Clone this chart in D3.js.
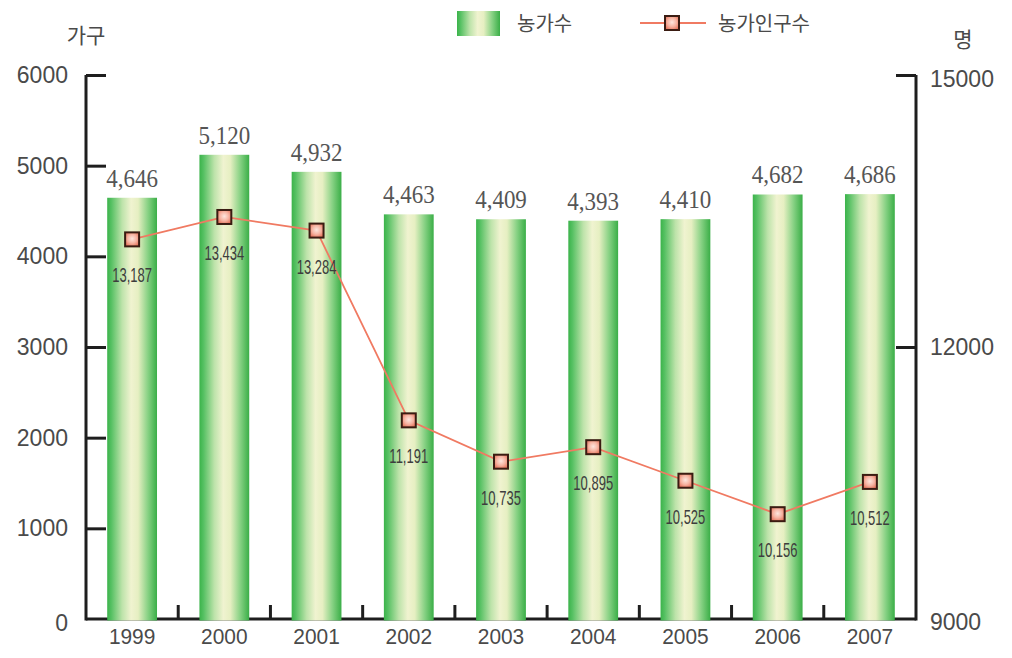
<!DOCTYPE html>
<html>
<head>
<meta charset="utf-8">
<script src="https://cdn.jsdelivr.net/npm/d3@7"></script>
<style>
  html, body { margin: 0; padding: 0; background: #fff; }
  svg { display: block; }
</style>
</head>
<body>
<svg id="chart" width="1012" height="658"></svg>
<script>
const years = ["1999","2000","2001","2002","2003","2004","2005","2006","2007"];
const households = [4646, 5120, 4932, 4463, 4409, 4393, 4410, 4682, 4686];
const population = [13187, 13434, 13284, 11191, 10735, 10895, 10525, 10156, 10512];
const leftTicks = [0, 1000, 2000, 3000, 4000, 5000, 6000];
const rightTicks = [9000, 12000, 15000];
const seriesNames = ["농가수", "농가인구수"];
const leftUnit = "가구";
const rightUnit = "명";

const svg = d3.select("#chart");
const m = { left: 86, right: 916, top: 75, bottom: 619 };

const x = d3.scaleBand().domain(years).range([m.left, m.right]).paddingInner(0.46).paddingOuter(0.23);
const yL = d3.scaleLinear().domain([0, 6000]).range([m.bottom, m.top]);
const yR = d3.scaleLinear().domain([9000, 15000]).range([m.bottom, m.top]);

const defs = svg.append("defs");
const bg = defs.append("linearGradient").attr("id", "barGrad").attr("x1", "0%").attr("x2", "100%").attr("y1", "0%").attr("y2", "0%");
[[0, "#3bb34a"], [0.08, "#55c062"], [0.3, "#bde3aa"], [0.48, "#f0f3d0"], [0.62, "#e6efc2"], [0.82, "#86d183"], [1, "#3aae47"]]
  .forEach(([o, c]) => bg.append("stop").attr("offset", o).attr("stop-color", c));
const mg = defs.append("radialGradient").attr("id", "mkGrad").attr("cx", "50%").attr("cy", "45%").attr("r", "65%");
[[0, "#fde6de"], [0.5, "#f6b3a1"], [1, "#e2674f"]]
  .forEach(([o, c]) => mg.append("stop").attr("offset", o).attr("stop-color", c));

const axisColor = "#1e1e1e";
const textColor = "#4a4a4a";
const sans = "'Liberation Sans', Arial, sans-serif";

// Left axis
const leftAxis = d3.axisLeft(yL).tickValues(leftTicks).tickSize(-20).tickPadding(18).tickFormat(d3.format("d"));
const gL = svg.append("g").attr("transform", `translate(${m.left},0)`).call(leftAxis);
gL.select(".domain").remove();
gL.append("line").attr("x1", 0).attr("x2", 0).attr("y1", m.top).attr("y2", m.bottom + 1.5)
  .attr("stroke", axisColor).attr("stroke-width", 3);
gL.selectAll(".tick line").attr("stroke", axisColor).attr("stroke-width", 3);
gL.selectAll(".tick text").attr("fill", textColor).style("font-family", sans).style("font-size", "23px");
gL.selectAll(".tick").filter(d => d === 0).select("line").remove();
gL.selectAll(".tick").filter(d => d === 0).select("text").attr("dy", "0.5em");

// Right axis
const rightAxis = d3.axisRight(yR).tickValues(rightTicks).tickSize(-20).tickPadding(14).tickFormat(d3.format("d"));
const gR = svg.append("g").attr("transform", `translate(${m.right},0)`).call(rightAxis);
gR.select(".domain").remove();
gR.append("line").attr("x1", 0).attr("x2", 0).attr("y1", m.top).attr("y2", m.bottom + 1.5)
  .attr("stroke", axisColor).attr("stroke-width", 3);
gR.selectAll(".tick line").attr("stroke", axisColor).attr("stroke-width", 3);
gR.selectAll(".tick text").attr("fill", textColor).style("font-family", sans).style("font-size", "23px");
gR.selectAll(".tick").filter(d => d === 9000).select("line").remove();
gR.selectAll(".tick").filter(d => d === 9000).select("text").attr("dy", "0.45em");
gR.selectAll(".tick").filter(d => d === 15000).select("text").attr("dy", "0.5em");

// Bottom axis
svg.append("line").attr("x1", m.left).attr("x2", m.right).attr("y1", m.bottom).attr("y2", m.bottom)
  .attr("stroke", axisColor).attr("stroke-width", 3);
const boundaries = years.slice(1).map(y => x(y) - x.step() * x.paddingInner() / 2);
svg.append("g").selectAll("line").data(boundaries).join("line")
  .attr("x1", d => d).attr("x2", d => d).attr("y1", m.bottom).attr("y2", m.bottom - 14)
  .attr("stroke", axisColor).attr("stroke-width", 3);
const bottomAxis = d3.axisBottom(x).tickSize(0).tickPadding(9);
const gB = svg.append("g").attr("transform", `translate(0,${m.bottom})`).call(bottomAxis);
gB.select(".domain").remove();
gB.selectAll(".tick text").attr("fill", textColor).style("font-family", sans).style("font-size", "22px")
  .attr("transform", "scale(0.95,1)");

// Bars
svg.append("g").selectAll("rect").data(households).join("rect")
  .attr("x", (d, i) => x(years[i])).attr("width", x.bandwidth())
  .attr("y", d => yL(d)).attr("height", d => yL(0) - yL(d) + 1.5)
  .attr("fill", "url(#barGrad)");

// Bar labels
svg.append("g").selectAll("text").data(households).join("text")
  .attr("transform", (d, i) => `translate(${x(years[i]) + x.bandwidth() / 2},${yL(d) - 11}) scale(0.92,1)`)
  .attr("text-anchor", "middle")
  .attr("fill", "#555")
  .style("font-family", "'Liberation Serif', 'DejaVu Serif', serif")
  .style("font-size", "25px")
  .text(d => d3.format(",")(d));

// Line
const line = d3.line().x((d, i) => x(years[i]) + x.bandwidth() / 2).y(d => yR(d));
svg.append("path").datum(population).attr("d", line)
  .attr("fill", "none").attr("stroke", "#f07a62").attr("stroke-width", 1.8);

svg.append("g").selectAll("rect").data(population).join("rect")
  .attr("x", (d, i) => x(years[i]) + x.bandwidth() / 2 - 7)
  .attr("y", d => yR(d) - 7)
  .attr("width", 14).attr("height", 14)
  .attr("fill", "url(#mkGrad)").attr("stroke", "#3a1c12").attr("stroke-width", 2);

// Line labels
svg.append("g").selectAll("text").data(population).join("text")
  .attr("transform", (d, i) => `translate(${x(years[i]) + x.bandwidth() / 2},${yR(d) + 43}) scale(0.62,1)`)
  .attr("text-anchor", "middle")
  .attr("fill", "#3d3d3d")
  .style("font-family", sans)
  .style("font-size", "21px")
  .text(d => d3.format(",")(d));

// Units
const kfont = "'Noto Sans CJK KR', sans-serif";
svg.append("text").attr("x", 86).attr("y", 43).attr("text-anchor", "middle").attr("fill", textColor)
  .style("font-family", kfont).style("font-size", "21px").text(leftUnit);
svg.append("text").attr("x", 963).attr("y", 47).attr("text-anchor", "middle").attr("fill", textColor)
  .style("font-family", kfont).style("font-size", "21px").text(rightUnit);

// Legend
const lg = svg.append("g");
lg.append("rect").attr("x", 457).attr("y", 11).attr("width", 43).attr("height", 25).attr("fill", "url(#barGrad)");
lg.append("text").attr("x", 517).attr("y", 31).attr("fill", textColor)
  .style("font-family", kfont).style("font-size", "20px").text(seriesNames[0]);
lg.append("line").attr("x1", 640).attr("x2", 706).attr("y1", 23).attr("y2", 23)
  .attr("stroke", "#f07a62").attr("stroke-width", 1.8);
lg.append("rect").attr("x", 665).attr("y", 16).attr("width", 14).attr("height", 14)
  .attr("fill", "url(#mkGrad)").attr("stroke", "#3a1c12").attr("stroke-width", 2);
lg.append("text").attr("x", 718).attr("y", 31).attr("fill", textColor)
  .style("font-family", kfont).style("font-size", "20px").text(seriesNames[1]);
</script>
</body>
</html>
